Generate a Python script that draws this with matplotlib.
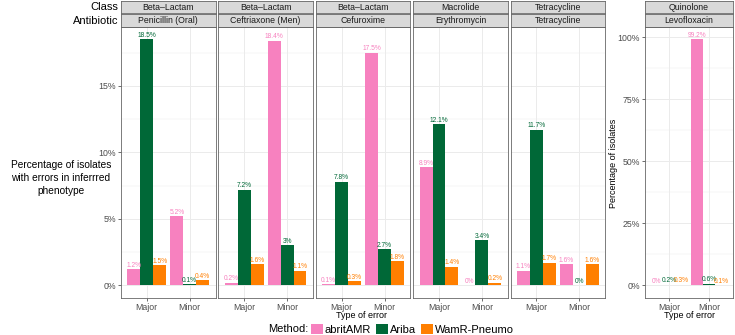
import numpy as np
import matplotlib
matplotlib.use('Agg')
import matplotlib.pyplot as plt
from matplotlib.patches import Patch

plt.rcParams['font.family'] = ['Liberation Sans', 'DejaVu Sans']

# Data
classes = ['Beta\u2013Lactam', 'Beta\u2013Lactam', 'Beta\u2013Lactam', 'Macrolide', 'Tetracycline', 'Quinolone']
antibiotics = ['Penicillin (Oral)', 'Ceftriaxone (Men)', 'Cefuroxime', 'Erythromycin', 'Tetracycline', 'Levofloxacin']
error_types = ['Major', 'Minor']
methods = ['abritAMR', 'Ariba', 'WamR-Pneumo']
colors = ['#F781BF', '#006837', '#FF7F00']

# per antibiotic: [Major, Minor]
abritamr = [[1.2, 5.2], [0.2, 18.4], [0.1, 17.5], [8.9, 0], [1.1, 1.6], [0, 99.2]]
ariba = [[18.5, 0.1], [7.2, 3], [7.8, 2.7], [12.1, 3.4], [11.7, 0], [0.2, 0.6]]
wamr = [[1.5, 0.4], [1.6, 1.1], [0.3, 1.8], [1.4, 0.2], [1.7, 1.6], [0.3, 0.1]]
series = [abritamr, ariba, wamr]

W, H = 735, 335
fig = plt.figure(figsize=(W / 100, H / 100), dpi=100)


def px(x0, y0, x1, y1):
    return [x0 / W, 1 - y1 / H, (x1 - x0) / W, (y1 - y0) / H]


border = '#666666'
grid = '#EBEBEB'
tick_col = '#4D4D4D'


def draw_panel(ax, k, ylim, major, minor, show_y):
    ax.set_facecolor('white')
    for t in major:
        ax.axhline(t, color=grid, lw=0.7, zorder=0)
    for t in minor:
        ax.axhline(t, color=grid, lw=0.35, zorder=0)
    for t in [1, 2]:
        ax.axvline(t, color=grid, lw=0.7, zorder=0)
    x = np.arange(1, 3)
    for i, s in enumerate(series):
        vals = s[k]
        pos = x + (i - 1) * 0.3
        ax.bar(pos, vals, width=0.3, color=colors[i], zorder=2)
        for p, v in zip(pos, vals):
            ax.annotate('{:g}%'.format(v), (p, v), xytext=(0, 0.3),
                        textcoords='offset points', ha='center', va='bottom',
                        fontsize=4.8, color=colors[i], zorder=3)
    ax.set_xlim(0.4, 2.6)
    ax.set_ylim(*ylim)
    ax.set_xticks(x)
    ax.set_xticklabels(error_types)
    ax.set_yticks(major)
    ax.tick_params(axis='both', width=0.5, length=2.5, pad=1, colors='#333333',
                   labelcolor=tick_col, labelsize=6.3)
    if show_y:
        ax.set_yticklabels(['{:g}%'.format(t) for t in major])
    else:
        ax.set_yticklabels([])
        ax.tick_params(axis='y', length=0)
    for sp in ax.spines.values():
        sp.set_color(border)
        sp.set_linewidth(0.6)


def strips(x0, x1, k):
    for (y0, y1, txt) in [(1, 13, classes[k]), (14, 26.5, antibiotics[k])]:
        sax = fig.add_axes(px(x0, y0, x1, y1))
        sax.set_facecolor('#D9D9D9')
        sax.set_xticks([])
        sax.set_yticks([])
        for sp in sax.spines.values():
            sp.set_color(border)
            sp.set_linewidth(0.6)
        sax.text(0.5, 0.45, txt, ha='center', va='center', fontsize=6.3,
                 color='#1A1A1A', transform=sax.transAxes)


top, bottom = 27, 297.7
left0, pw, gap = 121, 94.5, 2.9
for k in range(5):
    x0 = left0 + k * (pw + gap)
    ax = fig.add_axes(px(x0, top, x0 + pw, bottom))
    draw_panel(ax, k, (-0.925, 19.425), [0, 5, 10, 15], [2.5, 7.5, 12.5, 17.5], k == 0)
    strips(x0, x0 + pw, k)

rx0, rx1 = 645, 733
axr = fig.add_axes(px(rx0, top, rx1, bottom))
draw_panel(axr, 5, (-4.96, 104.16), [0, 25, 50, 75, 100], [12.5, 37.5, 62.5, 87.5], True)
strips(rx0, rx1, 5)

fig.text(118 / W, 1 - 7 / H, 'Class', ha='right', va='center', fontsize=8)
fig.text(118 / W, 1 - 20.5 / H, 'Antibiotic', ha='right', va='center', fontsize=8)
fig.text(61 / W, 1 - 178 / H, 'Percentage of isolates\nwith errors in inferrred\nphenotype',
         ha='center', va='center', fontsize=7.3, linespacing=1.35)
fig.text(614 / W, 1 - 163 / H, 'Percentage of isolates', ha='center', va='center',
         fontsize=6.5, rotation=90)
fig.text(362 / W, 1 - 316 / H, 'Type of error', ha='center', va='center', fontsize=6.5)
fig.text(689 / W, 1 - 316 / H, 'Type of error', ha='center', va='center', fontsize=6.5)

fig.text(268 / W, 1 - 329.5 / H, 'Method:', ha='left', va='center', fontsize=8)
handles = [Patch(facecolor=c, edgecolor='none') for c in colors]
fig.legend(handles, methods, loc='center left', bbox_to_anchor=(311 / W, 1 - 329.5 / H),
           ncol=3, frameon=False, fontsize=8, handlelength=1.05, handleheight=1.05,
           handletextpad=0.15, columnspacing=0.5, borderaxespad=0, borderpad=0)

fig.savefig('out.png', dpi=100)
